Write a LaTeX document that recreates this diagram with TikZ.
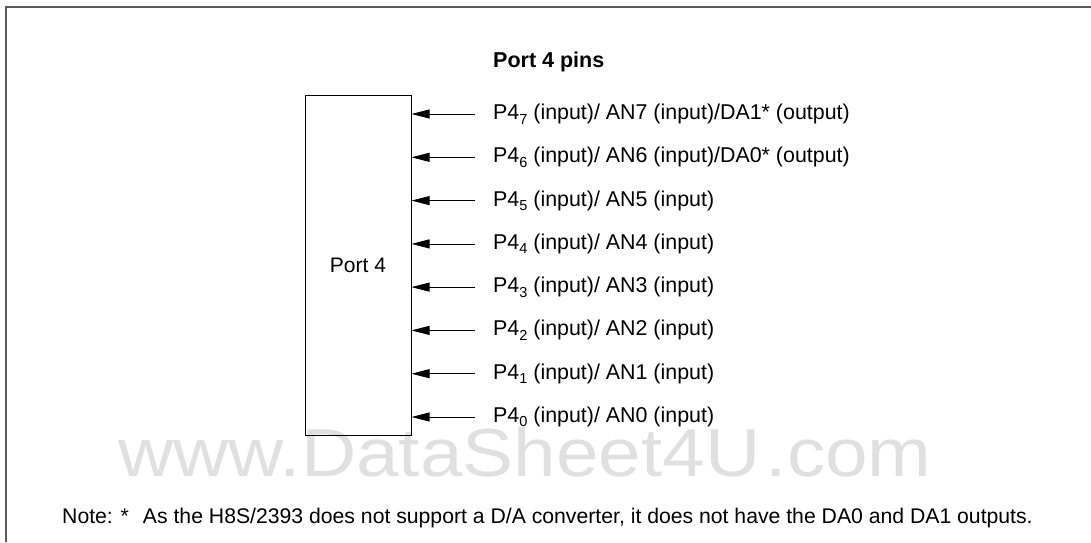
\documentclass[tikz,border=0pt]{standalone}
\usepackage{fontspec}
\setmainfont{Liberation Sans}
\usetikzlibrary{positioning,arrows.meta,calc}
\definecolor{framegray}{RGB}{90,90,90}
\definecolor{wmgray}{RGB}{224,224,224}
\newcommand{\pinsub}[1]{\raisebox{-0.4ex}{\fontsize{14.5}{14.5}\selectfont #1}}
\tikzset{
    portbox/.style={
        rectangle,
        draw=black,
        line width=1pt,
        minimum width=106pt,
        minimum height=340pt,
        inner sep=0pt,
        font=\fontsize{21}{24}\selectfont
    },
    pinlbl/.style={
        anchor=west,
        inner sep=0pt,
        font=\fontsize{21.4}{24}\selectfont
    },
    arr/.style={-{Triangle[length=18pt,width=9pt]},line width=0.8pt},
    frame/.style={draw=framegray,line width=1.3pt}
}
\begin{document}
\begin{tikzpicture}[x=1pt,y=-1pt]
\useasboundingbox (0,0) rectangle (1091,542);

% frame
\coordinate (ftl) at (6,7);
\coordinate (ftr) at (1091,7);
\coordinate (fbl) at (6,542);
\draw[frame] (ftr) -- (ftl) -- (fbl);

% watermark
\node[anchor=base,text=wmgray,inner sep=0pt,font=\fontsize{68}{68}\selectfont,xscale=1.125,transform shape] (wm) at (525,476) {www.DataSheet4U\hspace{5pt}.com};

\node[anchor=base west,inner sep=0pt,font=\fontsize{21.5}{24}\selectfont\bfseries] (title) at (493,67) {Port 4 pins};

\node[portbox] (port) at (358,265) {Port 4};

\coordinate (s7) at (475,114);
\coordinate (s6) at (475,157.3);
\coordinate (s5) at (475,200.6);
\coordinate (s4) at (475,243.9);
\coordinate (s3) at (475,287.1);
\coordinate (s2) at (475,330.4);
\coordinate (s1) at (475,373.7);
\coordinate (s0) at (475,417);

\node[pinlbl] (l7) at (493,114) {P4\pinsub{7} (input)/ AN7 (input)/DA1* (output)};
\node[pinlbl] (l6) at (493,157.3) {P4\pinsub{6} (input)/ AN6 (input)/DA0* (output)};
\node[pinlbl] (l5) at (493,200.6) {P4\pinsub{5} (input)/ AN5 (input)};
\node[pinlbl] (l4) at (493,243.9) {P4\pinsub{4} (input)/ AN4 (input)};
\node[pinlbl] (l3) at (493,287.1) {P4\pinsub{3} (input)/ AN3 (input)};
\node[pinlbl] (l2) at (493,330.4) {P4\pinsub{2} (input)/ AN2 (input)};
\node[pinlbl] (l1) at (493,373.7) {P4\pinsub{1} (input)/ AN1 (input)};
\node[pinlbl] (l0) at (493,417) {P4\pinsub{0} (input)/ AN0 (input)};

\draw[arr] (s7) -- (s7 -| port.east);
\draw[arr] (s6) -- (s6 -| port.east);
\draw[arr] (s5) -- (s5 -| port.east);
\draw[arr] (s4) -- (s4 -| port.east);
\draw[arr] (s3) -- (s3 -| port.east);
\draw[arr] (s2) -- (s2 -| port.east);
\draw[arr] (s1) -- (s1 -| port.east);
\draw[arr] (s0) -- (s0 -| port.east);

\node[anchor=base west,inner sep=0pt,font=\fontsize{21.2}{24}\selectfont] (note) at (62,523)
  {Note: *\hspace{14pt}As the H8S/2393 does not support a D/A converter, it does not have the DA0 and DA1 outputs.};
\end{tikzpicture}
\end{document}
